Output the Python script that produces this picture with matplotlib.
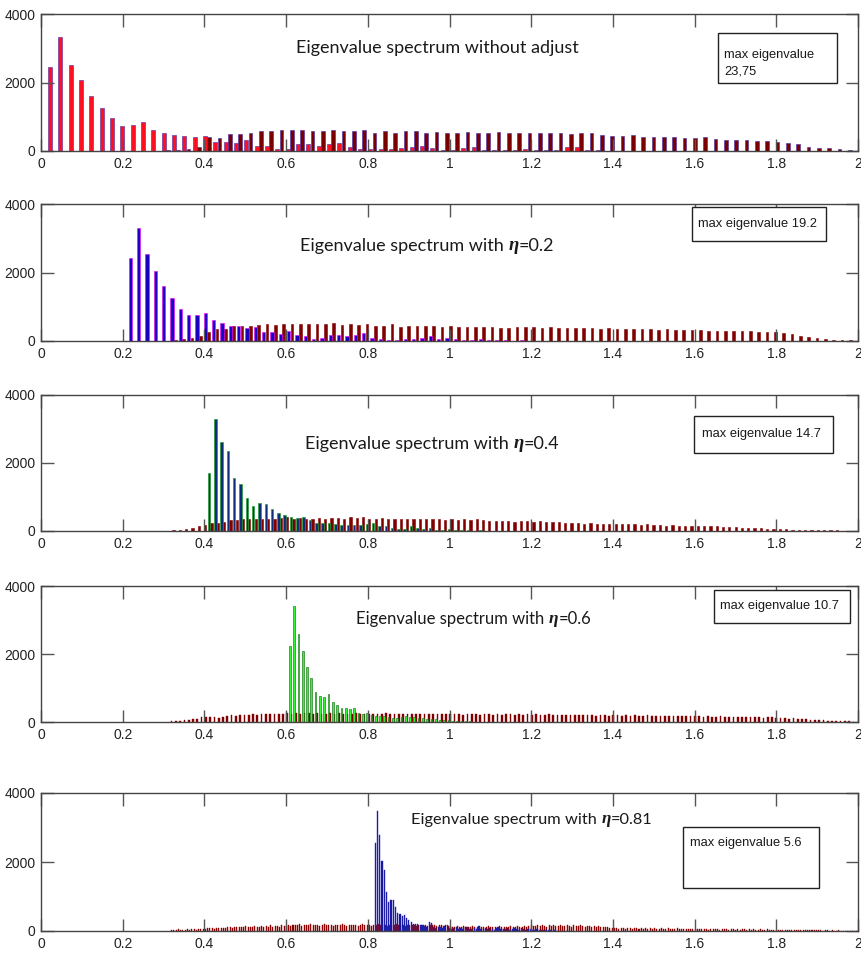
import numpy as np
import matplotlib.pyplot as plt
from matplotlib.patches import Rectangle

W, H = 862, 959

# ---- panel 1 : without adjust ----
w1 = 0.0253          # bin width
c1 = 0.027           # first bin centre
a1_start = 0
a1 = [2440, 3320, 2520, 2070, 1620, 1250, 970, 730, 770, 840,
      610, 530, 470, 440, 400, 450, 260, 270, 240, 320,
      145, 145, 70, 70, 190, 190, 145, 195, 240, 125,
      70, 50, 60, 70, 90, 115, 140, 80, 40, 30,
      100, 110, 20, 40, 30, 20, 60, 30, 20, 15,
      120, 120, 30, 20, 10, 10, 5, 5]
b1_start = 11
b1 = [30, 30, 50, 130, 400, 390, 500, 500, 530, 580,
      580, 600, 600, 600, 570, 570, 600, 580, 580, 600,
      530, 580, 530, 580, 580, 530, 560, 540, 540, 550,
      540, 540, 550, 540, 520, 540, 520, 520, 530, 510,
      540, 520, 470, 440, 440, 460, 420, 420, 400, 400,
      390, 380, 400, 360, 330, 320, 310, 290, 280, 260,
      230, 200, 130, 100, 80, 60, 40, 20]

# ---- panel 2 : eta = 0.2 ----
w2 = 0.0204
c2 = 0.2228
a2_start = 0
a2 = [2420, 3310, 2540, 2050, 1600, 1260, 940, 745, 745, 815,
      600, 530, 435, 435, 380, 415, 270, 270, 215, 290,
      175, 145, 70, 80, 175, 175, 145, 175, 225, 100,
      70, 20, 30, 70, 70, 100, 150, 70, 100, 70,
      40, 30, 50, 20, 30, 20, 10, 20, 10, 5]
b2_start = 5
b2 = [30, 50, 80, 150, 260, 340, 340, 435, 435, 435, 455,
      490, 460, 490, 490, 490, 490, 490, 490, 530, 460,
      490, 460, 490, 440, 440, 490, 420, 440, 440, 440,
      440, 420, 440, 420, 420, 420, 420, 420, 380, 380,
      410, 400, 410, 390, 400, 380, 390, 370, 380, 370,
      360, 370, 350, 360, 340, 350, 340, 330, 340, 320,
      330, 310, 320, 300, 300, 290, 300, 280, 280, 270,
      260, 250, 230, 200, 160, 120, 90, 60, 40, 30, 20, 10]

# ---- panel 3 : eta = 0.4 ----
w3 = 0.01546
c3 = 0.4142
a3_start = 0
a3 = [1710, 3300, 2615, 2360, 1560, 1370, 980, 730, 830, 800,
      660, 520, 470, 410, 390, 410, 320, 245, 225, 245,
      195, 175, 175, 175, 170, 195, 225, 145, 145, 100,
      70, 70, 145, 100, 60, 80, 40, 30, 50, 20,
      30, 20, 10, 20, 10, 10]
b3_start = -6
b3 = [30, 30, 50, 80, 145, 175, 225, 245, 265, 320,
      320, 340, 340, 340, 340, 360, 360, 390, 410, 360,
      390, 360, 360, 390, 360, 390, 390, 360, 410, 390,
      410, 360, 360, 390, 360, 360, 360, 340, 340, 340, 340,
      350, 360, 330, 340, 320, 340, 330, 350, 330, 300,
      290, 280, 300, 270, 290, 280, 260, 280, 270, 260,
      270, 250, 240, 230, 220, 240, 220, 210, 220, 210,
      200, 210, 200, 190, 200, 180, 170, 160, 170, 160,
      150, 160, 150, 140, 150, 140, 130, 120, 110, 100,
      90, 100, 80, 70, 60, 60, 50, 40, 40, 30,
      30, 30, 20, 20, 20, 10, 10, 10]

# ---- panel 4 : eta = 0.6 ----
w4 = 0.0105
c4 = 0.6114
a4_start = 0
a4 = [2250, 3400, 2590, 2080, 1620, 1280, 890, 770, 750, 815,
      580, 505, 410, 410, 390, 410, 260, 250, 260, 200,
      180, 170, 180, 150, 120, 130, 160, 170, 140, 150,
      130, 110, 90, 100, 80, 60, 70, 50, 40, 30,
      30, 20, 20, 10]
b4_start = -28
b4 = [40, 30, 40, 50, 60, 80, 90,
      140, 150, 140, 140, 130, 150,
      190, 200, 190, 210,
      220, 220, 230, 220, 230, 240, 230, 250, 240,
      250, 260, 250, 260, 250, 260, 260, 250, 260, 240,
      250, 260, 250, 260, 250, 240, 250, 260, 250, 250,
      240, 250, 240, 250, 260, 240, 250, 240, 250, 240,
      250, 240, 230, 240, 250, 240, 230, 240, 230,
      240, 230, 240, 220, 230, 240, 230, 220, 240, 230,
      220, 230, 220, 240, 230, 220, 230, 210, 230, 220,
      230, 210, 220, 230, 210, 220, 200, 220, 210, 200,
      220, 210, 200, 210, 190, 210, 200, 190, 210, 200,
      190, 200, 180, 200, 190, 180, 200, 190, 180, 190,
      170, 190, 180, 170, 180, 190, 170, 180,
      170, 160, 170, 150, 160, 170, 150, 160, 150, 140,
      160, 150, 140, 150, 140, 130, 150, 140, 130,
      120, 110, 100, 110, 90, 80, 90, 70, 60, 60,
      50, 40, 40, 30, 30, 20, 20, 10, 10]

# ---- panel 5 : eta = 0.81 ----
w5 = 0.0055
c5 = 0.8193
a5_start = 0
a5 = [2540, 3490, 2790, 2030, 1770, 1140, 850, 890, 890, 700,
      525, 485, 430, 455, 390, 310, 260, 215,
      215, 200, 180, 180, 150, 130, 260, 230, 120, 100,
      120, 110, 90, 150, 170, 100, 60, 80, 110, 70,
      90, 60, 110, 130, 70, 50, 90, 60, 140, 60,
      50, 90, 70, 100, 60, 40, 80, 120, 50, 70,
      60, 90, 40, 70, 100, 50, 40, 80, 60, 30,
      50, 70, 40, 30, 60, 30, 20, 40, 20, 30,
      20, 10, 20, 10, 10, 5, 10, 5, 5]
b5_start = -91
b5 = [40, 20, 30, 50, 40, 30, 40, 50, 40, 60, 50, 40, 60, 50, 60, 70,
      90, 80, 90, 70, 90, 100, 80, 90, 100,
      110, 120, 100, 130, 120, 110, 130, 120, 140, 120,
      130, 110, 140, 130, 120, 150, 130, 140, 120, 160,
      130, 150, 140, 130, 160, 140, 150,
      170, 150, 180, 160, 170, 190, 150, 170, 180, 160,
      190, 170, 160, 180, 150, 170, 190, 160, 180, 170,
      150, 180, 170, 160, 190, 170, 150, 180, 160, 170,
      180, 150, 170, 190, 160, 170, 180, 150, 170, 160,
      190, 170, 180, 160, 150, 170, 180, 160, 190, 170,
      160, 180, 150, 170, 160, 180, 170, 150, 160, 180,
      170, 160, 150, 170, 160, 180, 150, 160, 170, 150,
      160, 150,
      140, 120, 130, 150, 110, 130, 140, 120, 130, 110,
      140, 130, 120, 150, 130, 110, 120, 140, 130, 120,
      110, 130, 140, 120, 130, 110, 120, 140, 130, 120,
      150, 130, 120, 140, 130, 150,
      160, 140, 150, 170, 140, 160, 150, 130, 160, 150,
      170, 140, 150, 160, 140, 150, 170, 150, 130, 160,
      150, 140, 160, 150, 130, 150, 140, 120, 150, 130,
      140, 120, 130, 110, 120, 100,
      90, 80, 100, 70, 90, 80, 70, 90, 80, 70,
      80, 90, 70, 80, 60, 80, 70, 90, 70, 80,
      60, 70, 80, 60, 70, 80, 60, 70, 60, 80,
      60, 70, 60, 50, 70, 60,
      60, 50, 70, 50, 60, 50, 60, 40, 60, 50,
      50, 60, 40, 50, 60, 50, 40, 50, 60, 40,
      50, 40, 50, 60, 40, 50, 40, 50, 40, 40,
      50, 40, 30, 50, 40, 30,
      40, 30, 40, 30, 40, 30, 30, 40, 30, 30,
      20, 30, 30, 20, 30, 20, 30, 20, 20, 30,
      20, 20, 10, 20, 20, 10, 20, 10, 10, 20,
      10, 10, 10, 5, 10, 5, 5, 5]

titles = ['Eigenvalue spectrum without adjust',
          'Eigenvalue spectrum with', 'Eigenvalue spectrum with',
          'Eigenvalue spectrum with', 'Eigenvalue spectrum with']
eta_vals = [None, '=0.2', '=0.4', '=0.6', '=0.81']
max_labels = ['max eigenvalue\n23,75', 'max eigenvalue 19.2', 'max eigenvalue 14.7',
              'max eigenvalue 10.7', 'max eigenvalue 5.6']
xtick_vals = [0, 0.2, 0.4, 0.6, 0.8, 1.0, 1.2, 1.4, 1.6, 1.8, 2.0]
xtick_labels = ['0', '0.2', '0.4', '0.6', '0.8', '1', '1.2', '1.4', '1.6', '1.8', '2']
ytick_vals = [0, 2000, 4000]
ytick_labels = ['0', '2000', '4000']

panels = [
    (w1, c1, a1_start, a1, b1_start, b1),
    (w2, c2, a2_start, a2, b2_start, b2),
    (w3, c3, a3_start, a3, b3_start, b3),
    (w4, c4, a4_start, a4, b4_start, b4),
    (w5, c5, a5_start, a5, b5_start, b5),
]

# styles (face, edge, lw, width) for the peaked series and the spread series
a_style = [('#ff1020', '#3b2bb5', 0.4, 0.4), ('#1a00c0', '#ff00ff', 0.4, 0.4),
           ('#0f2d7a', '#1aa31a', 0.45, 0.4), ('#33f533', '#0b600b', 0.4, 0.4),
           ('#14149a', '#2a2ab8', 0.3, 0.5)]
b_style = [('#7a0000', '#3b2bb5', 0.4, 0.34), ('#800000', '#800000', 0.4, 0.34),
           ('#800000', '#800000', 0.4, 0.36), ('#800000', '#800000', 0.3, 0.4),
           ('#8b0000', '#8b0000', 0.3, 0.45)]

# layout in image pixels
ax_px = [(41, 14, 858, 151), (41, 204, 858, 341), (41, 395, 858, 531),
         (41, 586, 858, 722), (41, 793, 858, 931)]
title_px = [(296, 48), (300, 246), (305, 444), (356, 619), (411, 820)]
title_size = [13, 13, 13, 12, 11.8]
box_px = [(718, 33, 837, 83), (692, 207, 826, 241), (694, 416, 833, 453),
          (714, 590, 850, 623), (683, 827, 819, 888)]
boxtext_px = [(724, 63), (698, 224), (702, 434), (720, 606), (690, 843)]

narrow = ['Liberation Sans', 'DejaVu Sans']
title_font = ['Lato', 'DejaVu Sans']
plt.rcParams['font.family'] = narrow

fig = plt.figure(figsize=(W / 100, H / 100), dpi=100)


def fx(x):
    return x / W


def fy(y):
    return 1 - y / H


for i, (w, c0, sa, va, sb, vb) in enumerate(panels):
    x0, y0, x1, y1 = ax_px[i]
    ax = fig.add_axes([fx(x0), fy(y1), (x1 - x0) / W, (y1 - y0) / H])

    xa = c0 + (sa + np.arange(len(va))) * w
    xb = c0 + (sb + np.arange(len(vb))) * w
    fa, ea, la, wa = a_style[i]
    fb, eb, lb, wb = b_style[i]
    ax.bar(xb + 0.2 * w, vb, width=wb * w, color=fb, edgecolor=eb, linewidth=lb)
    ax.bar(xa - 0.2 * w, va, width=wa * w, color=fa, edgecolor=ea, linewidth=la)

    ax.set_xlim(0, 2)
    ax.set_ylim(0, 4000)
    ax.set_xticks(xtick_vals)
    ax.set_xticklabels(xtick_labels)
    ax.set_yticks(ytick_vals)
    ax.set_yticklabels(ytick_labels)
    ax.tick_params(direction='in', length=9, width=1, color='#555555', top=True, right=True,
                   labelsize=10, pad=4, labelcolor='#222222')
    for s in ax.spines.values():
        s.set_color('#444444')
        s.set_linewidth(1)

    # title
    tx, ty = title_px[i]
    fs = title_size[i]
    t = fig.text(fx(tx), fy(ty), titles[i], fontsize=fs, family=title_font,
                 va='center', ha='left', color='#1a1a1a')
    if eta_vals[i] is not None:
        t2 = ax.annotate('η', xy=(1, 0), xycoords=t, xytext=(3.5, 0), textcoords='offset points',
                         va='bottom', ha='left', fontsize=fs + 0.5, family='Liberation Serif',
                         weight='bold', style='italic', color='#1a1a1a')
        ax.annotate(eta_vals[i], xy=(1, 0), xycoords=t2, va='bottom', ha='left',
                    fontsize=fs, family=title_font, color='#1a1a1a')

    # max eigenvalue box
    bx0, by0, bx1, by1 = box_px[i]
    fig.add_artist(Rectangle((fx(bx0), fy(by1)), (bx1 - bx0) / W, (by1 - by0) / H,
                             transform=fig.transFigure, facecolor='white',
                             edgecolor='#222222', linewidth=1))
    mx, my = boxtext_px[i]
    fig.text(fx(mx), fy(my), max_labels[i], fontsize=9.3, family=narrow, va='center',
             ha='left', color='#1a1a1a', linespacing=1.5, zorder=5)

fig.savefig('out.png', dpi=100)
